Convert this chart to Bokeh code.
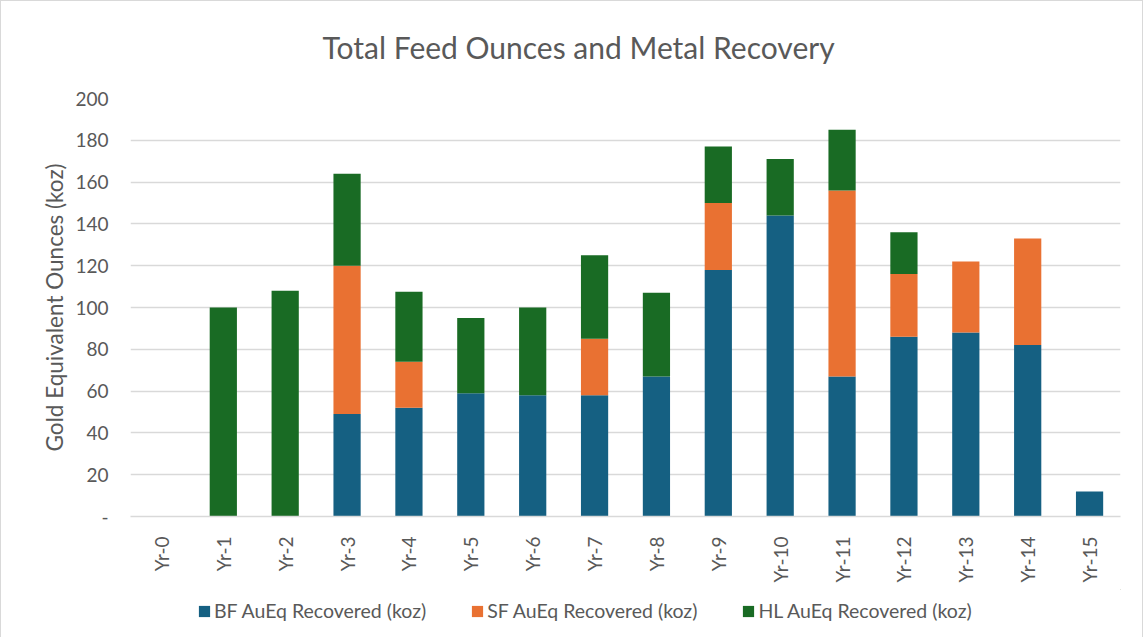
from bokeh.plotting import figure
from bokeh.layouts import column
from bokeh.models import ColumnDataSource, Legend, LegendItem, FixedTicker
from bokeh.embed import file_html
from bokeh.resources import INLINE
import math

years = ["Yr-0", "Yr-1", "Yr-2", "Yr-3", "Yr-4", "Yr-5", "Yr-6", "Yr-7",
         "Yr-8", "Yr-9", "Yr-10", "Yr-11", "Yr-12", "Yr-13", "Yr-14", "Yr-15"]
bf = [0, 0, 0, 49, 52, 59, 58, 58, 67, 118, 144, 67, 86, 88, 82, 12]
sf = [0, 0, 0, 71, 22, 0, 0, 27, 0, 32, 0, 89, 30, 34, 51, 0]
hl = [0, 100, 108, 44, 33.5, 36, 42, 40, 40, 27, 27, 29, 20, 0, 0, 0]
series = ["BF", "SF", "HL"]
series_labels = ["BF AuEq Recovered (koz)", "SF AuEq Recovered (koz)", "HL AuEq Recovered (koz)"]
colors = ["#156082", "#E97132", "#196B24"]
y_ticks = [0, 20, 40, 60, 80, 100, 120, 140, 160, 180, 200]
title_text = "Total Feed Ounces and Metal Recovery"

FONT = "Lato"
TXT = "#595959"

# title strip
tf = figure(width=1141, height=70, output_backend="svg", toolbar_location=None,
            title=title_text, min_border_top=63, min_border_bottom=0,
            min_border_left=0, min_border_right=0, x_range=(0, 1), y_range=(0, 1))
tf.axis.visible = False
tf.grid.grid_line_color = None
tf.outline_line_color = None
tf.title.align = "left"
tf.title.text_font = FONT
tf.title.text_font_size = "30px"
tf.title.text_font_style = "normal"
tf.title.text_color = TXT
tf.title.offset = 192
tf.title.standoff = 0

source = ColumnDataSource(data=dict(years=years, BF=bf, SF=sf, HL=hl))

p = figure(x_range=years, y_range=(0, 200), width=1141, height=518,
           output_backend="svg", toolbar_location=None,
           min_border_left=129, min_border_right=22,
           min_border_top=27, min_border_bottom=73)

renderers = p.vbar_stack(series, x="years", width=0.44, color=colors,
                         line_color=None, source=source)

p.outline_line_color = None
p.xgrid.grid_line_color = None
p.ygrid.grid_line_color = "#d9d9d9"
p.ygrid.grid_line_width = 1.5

p.yaxis.ticker = FixedTicker(ticks=y_ticks)
p.yaxis.major_label_overrides = {0: "-"}
p.yaxis.axis_line_color = None
p.yaxis.major_tick_line_color = None
p.yaxis.minor_tick_line_color = None
p.yaxis.major_label_text_font = FONT
p.yaxis.major_label_text_font_size = "19px"
p.yaxis.major_label_text_color = TXT
p.yaxis.major_label_standoff = 16
p.yaxis.axis_label = "Gold Equivalent Ounces (koz)"
p.yaxis.axis_label_text_font = FONT
p.yaxis.axis_label_text_font_size = "22.5px"
p.yaxis.axis_label_text_font_style = "normal"
p.yaxis.axis_label_text_color = TXT
p.yaxis.axis_label_standoff = 4

p.xaxis.axis_line_color = "#d9d9d9"
p.xaxis.axis_line_width = 1.5
p.xaxis.major_tick_line_color = None
p.xaxis.minor_tick_line_color = None
p.xaxis.major_label_orientation = math.pi / 2
p.xaxis.major_label_text_font = FONT
p.xaxis.major_label_text_font_size = "19px"
p.xaxis.major_label_text_color = TXT
p.xaxis.major_label_standoff = 14

# legend strip below the chart
lf = figure(width=1141, height=48, output_backend="svg", toolbar_location=None,
            min_border=0, x_range=(0, 1), y_range=(0, 1))
lf.axis.visible = False
lf.grid.grid_line_color = None
lf.outline_line_color = None
dummies = [lf.vbar(x=[5], top=[5], bottom=[4], width=0.1, color=c, line_color=None)
           for c in colors]
items = [LegendItem(label=lab, renderers=[r]) for lab, r in zip(series_labels, dummies)]
legend = Legend(items=items, orientation="horizontal", location=(67, 15),
                label_text_font=FONT, label_text_font_size="19.5px",
                label_text_color=TXT, glyph_width=14, glyph_height=14,
                spacing=44, label_standoff=3, border_line_color=None,
                background_fill_alpha=0, padding=0, margin=0)
lf.add_layout(legend, "center")

layout = column(tf, p, lf, spacing=0)
layout.styles = {"border-top": "1px solid #d9d9d9", "border-left": "1px solid #d9d9d9",
                 "border-right": "1px solid #d9d9d9"}
open("out.html", "w").write(file_html(layout, INLINE))
